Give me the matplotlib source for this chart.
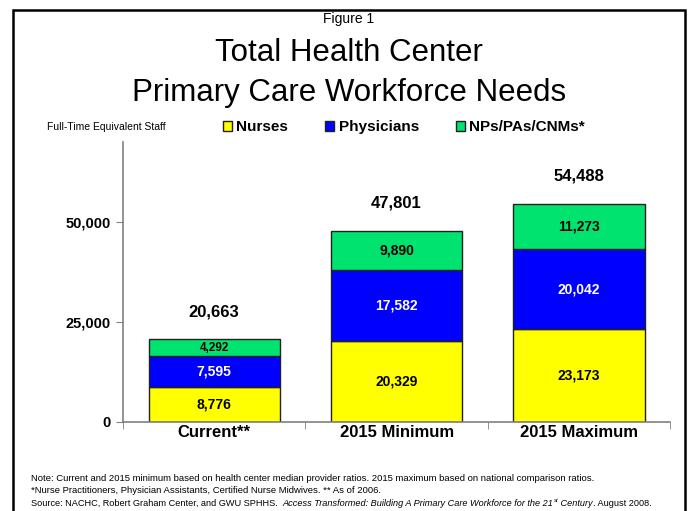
import numpy as np
import matplotlib.pyplot as plt
from matplotlib.patches import Rectangle

plt.rcParams['font.family'] = ['Liberation Sans', 'DejaVu Sans']

# Datos
categorias = ['Current**', '2015 Minimum', '2015 Maximum']
nurses = [8776, 20329, 23173]
physicians = [7595, 17582, 20042]
nps = [4292, 9890, 11273]
totales = [20663, 47801, 54488]
series = ['Nurses', 'Physicians', 'NPs/PAs/CNMs*']
colores = ['#FFFF00', '#0000FF', '#00E36E']
yticks = [0, 25000, 50000]

fig = plt.figure(figsize=(6.88, 5.11), dpi=100)
ax = fig.add_axes([0.1788, 0.1742, 0.7952, 0.548])

x = np.arange(len(categorias))
ancho = 0.72
base = np.zeros(len(categorias))
barras = []
for vals, col, nom in zip([nurses, physicians, nps], colores, series):
    b = ax.bar(x, vals, ancho, bottom=base, color=col, edgecolor='#202020',
               linewidth=1.0, label=nom)
    barras.append(b)
    for xi, v, b0 in zip(x, vals, base):
        color_txt = 'white' if col == '#0000FF' else 'black'
        tam = 8.5 if v < 5000 else 10
        ax.text(xi, b0 + v / 2, f'{v:,}', ha='center', va='center',
                fontsize=tam, fontweight='bold', color=color_txt)
    base = base + np.array(vals)

# Totales encima de las barras
for xi, t in zip(x, totales):
    ax.annotate(f'{t:,}', (xi, t), xytext=(0, 20), textcoords='offset points',
                ha='center', va='center', fontsize=12, fontweight='bold')

ax.set_xlim(-0.5, 2.5)
ax.set_ylim(0, 70000)
ax.set_yticks(yticks)
ax.set_yticklabels([f'{v:,}' for v in yticks], fontsize=10.5, fontweight='bold')
ax.set_xticks(x)
ax.set_xticklabels(categorias, fontsize=12, fontweight='bold')
ax.tick_params(axis='x', length=0, pad=2)
ax.set_xticks([-0.5, 0.5, 1.5, 2.5], minor=True)
ax.tick_params(axis='x', which='minor', length=5, color='#808080', direction='out')
ax.tick_params(axis='y', length=5, color='#808080', direction='out', pad=4)
for s in ['top', 'right']:
    ax.spines[s].set_visible(False)
for s in ['left', 'bottom']:
    ax.spines[s].set_color('#808080')
    ax.spines[s].set_linewidth(1.2)

# Títulos
fig.text(0.507, 0.963, 'Figure 1', ha='center', va='center', fontsize=10)
fig.text(0.507, 0.897, 'Total Health Center', ha='center', va='center', fontsize=22.5)
fig.text(0.507, 0.818, 'Primary Care Workforce Needs', ha='center', va='center', fontsize=22.5)
fig.text(0.068, 0.751, 'Full-Time Equivalent Staff', ha='left', va='center', fontsize=7.5)

fig.legend(handles=barras, labels=series, loc='center', bbox_to_anchor=(0.587, 0.751),
           ncol=3, frameon=False, handlelength=0.6, handleheight=0.6,
           handletextpad=0.3, columnspacing=2.4, prop={'size': 11, 'weight': 'bold'})

# Notas
tam_nota = 6.8
fig.text(0.045, 0.064, 'Note: Current and 2015 minimum based on health center median provider ratios. '
         '2015 maximum based on national comparison ratios.', fontsize=tam_nota, va='center')
fig.text(0.045, 0.040, '*Nurse Practitioners, Physician Assistants, Certified Nurse Midwives. ** As of 2006.',
         fontsize=tam_nota, va='center')

# Línea de fuente, por partes (cursiva y superíndice)
tam3 = 6.6
partes = [('Source: NACHC, Robert Graham Center, and GWU SPHHS.  ', 'normal', 0, tam3),
          ('Access Transformed: Building A Primary Care Workforce for the 21', 'italic', 0, tam3),
          ('st', 'italic', 0.005, tam3 * 0.65),
          (' Century', 'italic', 0, tam3),
          ('. August 2008.', 'normal', 0, tam3)]
renderer = fig.canvas.get_renderer()
xpos = 0.045
for txt, estilo, dy, tam in partes:
    t = fig.text(xpos, 0.015 + dy, txt, fontsize=tam, style=estilo, va='center')
    bb = t.get_window_extent(renderer=renderer)
    xpos += bb.width / fig.bbox.width

# Marco
fig.patches.append(Rectangle((13 / 688, -0.05), (685 - 13) / 688, 1.05 - 10 / 511,
                             transform=fig.transFigure, fill=False,
                             edgecolor='black', linewidth=1.8))

fig.savefig('out.png', dpi=100)
